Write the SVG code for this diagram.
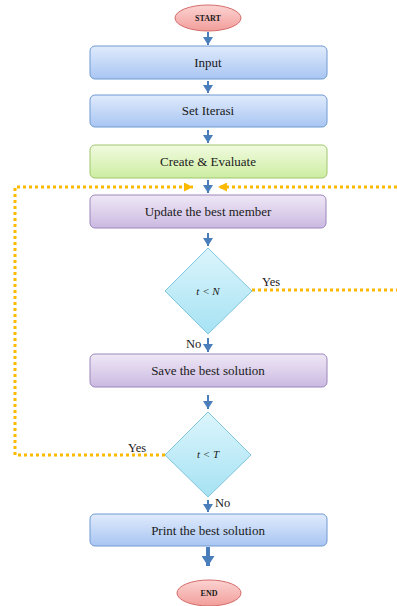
<svg xmlns="http://www.w3.org/2000/svg" width="397" height="606" viewBox="0 0 397 606">
<defs>
<linearGradient id="gBlue" x1="0" y1="0" x2="0" y2="1"><stop offset="0" stop-color="#e0ebfc"/><stop offset="1" stop-color="#a8c5f2"/></linearGradient>
<linearGradient id="gGreen" x1="0" y1="0" x2="0" y2="1"><stop offset="0" stop-color="#f1fbe0"/><stop offset="1" stop-color="#cdeda2"/></linearGradient>
<linearGradient id="gPurple" x1="0" y1="0" x2="0" y2="1"><stop offset="0" stop-color="#efe8f6"/><stop offset="1" stop-color="#cbb9e1"/></linearGradient>
<linearGradient id="gCyan" x1="0" y1="0" x2="0" y2="1"><stop offset="0" stop-color="#dcf5fc"/><stop offset="1" stop-color="#a6e2f3"/></linearGradient>
<linearGradient id="gPink" x1="0" y1="0" x2="0" y2="1"><stop offset="0" stop-color="#fbd3d1"/><stop offset="1" stop-color="#f29e9b"/></linearGradient>
<marker id="ah" markerWidth="10" markerHeight="8" refX="5" refY="8" markerUnits="userSpaceOnUse" viewBox="0 0 10 8"><path d="M0,0 L10,0 L5,8 Z" fill="#4a7ebb"/></marker>
<marker id="ahBig" markerWidth="13" markerHeight="10" refX="6.5" refY="10" markerUnits="userSpaceOnUse" viewBox="0 0 13 10"><path d="M0,0 L13,0 L6.5,10 Z" fill="#4a7ebb"/></marker>
<marker id="oh" markerWidth="9" markerHeight="9" refX="9" refY="4.5" orient="auto" markerUnits="userSpaceOnUse" viewBox="0 0 9 9"><path d="M0,0 L9,4.5 L0,9 Z" fill="#fbb900"/></marker>
</defs>
<style>
.box{stroke-width:1}
.blue{fill:url(#gBlue);stroke:#7099d2}
.green{fill:url(#gGreen);stroke:#a0c66e}
.purple{fill:url(#gPurple);stroke:#9c86ba}
.cyan{fill:url(#gCyan);stroke:#80c6dc}
.pink{fill:url(#gPink);stroke:#d36c6a}
.t{font-family:"Liberation Serif","Times New Roman","DejaVu Serif",serif;font-size:13px;fill:#1a1a1a;text-anchor:middle}
.tb{font-family:"Liberation Serif","Times New Roman","DejaVu Serif",serif;font-size:8px;font-weight:bold;fill:#1a1a1a;text-anchor:middle}
.ti{font-family:"Liberation Serif","Times New Roman","DejaVu Serif",serif;font-size:11px;font-style:italic;fill:#1a1a1a;text-anchor:middle}
.lbl{font-family:"Liberation Serif","Times New Roman","DejaVu Serif",serif;font-size:12.5px;fill:#1a1a1a}
.arr{stroke:#4a7ebb;stroke-width:2;fill:none;marker-end:url(#ah)}
.dot{stroke:#fbb900;stroke-width:3;stroke-dasharray:3 3;fill:none}
</style>
<g id="connectors">
<line class="arr" x1="208" y1="32" x2="208" y2="45"/>
<line class="arr" x1="208" y1="81" x2="208" y2="93"/>
<line class="arr" x1="208" y1="130" x2="208" y2="143"/>
<line class="arr" x1="208" y1="180" x2="208" y2="193"/>
<line class="arr" x1="208" y1="233" x2="208" y2="246"/>
<line class="arr" x1="208" y1="338" x2="208" y2="352"/>
<line class="arr" x1="208" y1="395" x2="208" y2="409"/>
<line class="arr" x1="208" y1="500" x2="208" y2="512"/>
<line x1="208" y1="547" x2="208" y2="566" stroke="#4a7ebb" stroke-width="4" marker-end="url(#ahBig)"/>
<path class="dot" d="M165,455 H15 V187 H193" marker-end="url(#oh)"/>
<path class="dot" d="M252,290 H397"/>
<path class="dot" d="M397,187 H218" marker-end="url(#oh)"/>
<text class="lbl" x="262" y="286">Yes</text>
<text class="lbl" x="186" y="348">No</text>
<text class="lbl" x="128" y="452">Yes</text>
<text class="lbl" x="215" y="507">No</text>
</g>
<g id="start"><ellipse class="box pink" cx="208" cy="18" rx="33" ry="13"/><text class="tb" x="208" y="21">START</text></g>
<g id="input"><rect class="box blue" x="90" y="46" width="237" height="33" rx="5"/><text class="t" x="208" y="67">Input</text></g>
<g id="set-iterasi"><rect class="box blue" x="90" y="95" width="237" height="32" rx="5"/><text class="t" x="208" y="115">Set Iterasi</text></g>
<g id="create-evaluate"><rect class="box green" x="90" y="145" width="237" height="33" rx="5"/><text class="t" x="208" y="166">Create &amp; Evaluate</text></g>
<g id="update"><rect class="box purple" x="90" y="195" width="236" height="33" rx="5"/><text class="t" x="208" y="216">Update the best member</text></g>
<g id="cond-n"><path class="box cyan" d="M208,248 L252,291 L208,334 L165,291 Z"/><text class="ti" x="208" y="295">t &lt; N</text></g>
<g id="save"><rect class="box purple" x="90" y="354" width="237" height="33" rx="5"/><text class="t" x="208" y="375">Save the best solution</text></g>
<g id="cond-t"><path class="box cyan" d="M208,412 L251,455 L208,497 L165,455 Z"/><text class="ti" x="208" y="458">t &lt; T</text></g>
<g id="print"><rect class="box blue" x="90" y="514" width="237" height="32" rx="5"/><text class="t" x="208" y="535">Print the best solution</text></g>
<g id="end"><ellipse class="box pink" cx="209" cy="593" rx="32" ry="13"/><text class="tb" x="209" y="596">END</text></g>
</svg>
